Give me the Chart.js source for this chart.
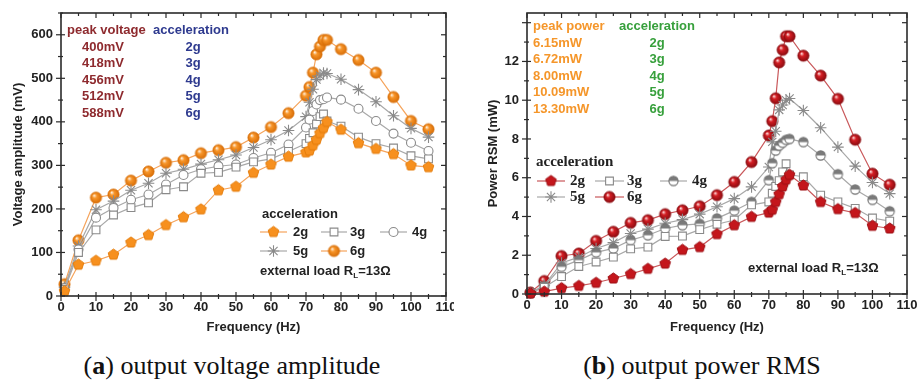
<!DOCTYPE html>
<html>
<head>
<meta charset="utf-8">
<script src="https://cdn.jsdelivr.net/npm/chart.js@4.4.1/dist/chart.umd.min.js"></script>
<style>
body { margin: 0; background: #fff; }
#wrap { position: relative; width: 919px; height: 388px; overflow: hidden; background: #fff; }
#c1 { position: absolute; left: 0; top: 0; }
#c2 { position: absolute; left: 460px; top: 0; }
.cap { position: absolute; top: 351px; transform: translateX(-50%); font-family: "Liberation Serif", serif; font-size: 26px; color: #111; white-space: nowrap; }
</style>
</head>
<body>
<div id="wrap">
  <canvas id="c1" width="454" height="340"></canvas>
  <canvas id="c2" width="459" height="340"></canvas>
  <div class="cap" style="left:232px">(<b>a</b>) output voltage amplitude</div>
  <div class="cap" style="left:702px">(<b>b</b>) output power RMS</div>
</div>
<script>
// frequencies (Hz) shared by every series
const freq = [1, 5, 10, 15, 20, 25, 30, 35, 40, 45, 50, 55, 60, 65, 70, 71, 72, 73, 74, 75, 76, 80, 85, 90, 95, 100, 105];
const accel = ['2g', '3g', '4g', '5g', '6g'];

// (a) voltage amplitude, mV
const volt2g = [11, 72, 81, 95, 123, 140, 163, 181, 199, 243, 251, 283, 302, 320, 330, 334, 346, 359, 374, 386, 400, 382, 351, 338, 326, 300, 296];
const volt3g = [15, 100, 152, 186, 203, 214, 244, 251, 282, 284, 296, 308, 315, 332, 350, 362, 375, 395, 412, 418, 402, 390, 365, 350, 340, 322, 315];
const volt4g = [18, 107, 180, 202, 221, 233, 256, 278, 291, 298, 302, 317, 329, 348, 387, 405, 425, 440, 450, 452, 456, 451, 430, 402, 373, 352, 333];
const volt5g = [20, 115, 198, 218, 243, 259, 282, 291, 303, 313, 324, 341, 359, 380, 412, 445, 475, 497, 506, 512, 511, 498, 474, 446, 414, 385, 365];
const volt6g = [27, 128, 226, 233, 265, 286, 306, 312, 328, 335, 342, 364, 388, 420, 460, 480, 513, 555, 573, 588, 588, 567, 542, 513, 457, 402, 383];
const peakVoltage = ['400mV', '418mV', '456mV', '512mV', '588mV'];

// (b) power RMS, mW
const pow2g = [0.03, 0.12, 0.3, 0.42, 0.58, 0.8, 1.03, 1.3, 1.57, 2.28, 2.42, 3.09, 3.55, 3.98, 4.2, 4.35, 4.75, 5.15, 5.55, 5.9, 6.15, 5.6, 4.75, 4.38, 4.18, 3.52, 3.38];
const pow3g = [0.05, 0.35, 0.9, 1.42, 1.65, 1.9, 2.33, 2.42, 2.97, 2.99, 3.32, 3.6, 3.82, 4.6, 4.75, 5.2, 5.55, 5.85, 6.3, 6.72, 6.15, 6.05, 5.1, 4.75, 4.42, 3.92, 3.76];
const pow4g = [0.05, 0.4, 1.4, 1.75, 2.15, 2.35, 2.78, 3.03, 3.38, 3.55, 3.62, 3.9, 4.3, 4.75, 5.87, 6.75, 7.4, 7.65, 7.8, 7.95, 8.0, 7.84, 7.15, 6.18, 5.39, 4.86, 4.27];
const pow5g = [0.06, 0.45, 1.6, 1.9, 2.35, 2.65, 3.12, 3.35, 3.65, 3.84, 4.12, 4.5, 4.92, 5.53, 6.55, 7.85, 8.4, 9.5, 9.75, 10.0, 10.09, 9.47, 8.58, 7.58, 6.6, 5.75, 5.18];
const pow6g = [0.08, 0.67, 1.96, 2.09, 2.74, 3.21, 3.67, 3.81, 4.12, 4.32, 4.53, 5.1, 5.78, 6.81, 8.18, 8.92, 10.1, 11.95, 12.6, 13.3, 13.3, 12.3, 11.27, 10.07, 7.96, 6.21, 5.64];
const peakPower = ['6.15mW', '6.72mW', '8.00mW', '10.09mW', '13.30mW'];

const SANS = '"Liberation Sans", Arial, sans-serif';
const SERIF = '"Liberation Serif", "Times New Roman", serif';

// marker images
function pentagonImg(fill, edge, r) {
  const s = Math.ceil(2 * r + 3), c = document.createElement('canvas');
  c.width = c.height = s;
  const g = c.getContext('2d');
  g.translate(s / 2, s / 2);
  g.beginPath();
  for (let k = 0; k < 5; k++) {
    const a = -Math.PI / 2 + k * 2 * Math.PI / 5;
    g.lineTo(r * Math.cos(a), r * Math.sin(a));
  }
  g.closePath();
  g.fillStyle = fill; g.fill();
  g.strokeStyle = edge; g.lineWidth = 1; g.stroke();
  return c;
}
function ballImg(light, mid, dark, r) {
  const s = Math.ceil(2 * r + 3), c = document.createElement('canvas');
  c.width = c.height = s;
  const g = c.getContext('2d');
  g.translate(s / 2, s / 2);
  const grd = g.createRadialGradient(-0.35 * r, -0.4 * r, 0.3, 0, 0, r);
  grd.addColorStop(0, light);
  grd.addColorStop(0.35, mid);
  grd.addColorStop(1, dark);
  g.beginPath(); g.arc(0, 0, r, 0, Math.PI * 2);
  g.fillStyle = grd; g.fill();
  g.strokeStyle = dark; g.lineWidth = 0.8; g.stroke();
  return c;
}
function halfImg(r) {
  const s = Math.ceil(2 * r + 3), c = document.createElement('canvas');
  c.width = c.height = s;
  const g = c.getContext('2d');
  g.translate(s / 2, s / 2);
  g.beginPath(); g.arc(0, 0, r, 0, Math.PI * 2); g.fillStyle = '#fff'; g.fill();
  g.beginPath(); g.arc(0, 0, r, Math.PI, Math.PI * 2); g.closePath(); g.fillStyle = '#7a7a7a'; g.fill();
  g.beginPath(); g.arc(0, 0, r, 0, Math.PI * 2); g.strokeStyle = '#707070'; g.lineWidth = 1.1; g.stroke();
  return c;
}

const ORANGE_LINE = '#f5a45c', ORANGE = '#f7901e';
const RED_LINE = '#c9585b', RED = '#c4161c';
const GRAY_LINE = '#a8a8a8', GRAY = '#8a8a8a';

function series(label, vals, lineColor, style, radius, fill, edge) {
  return {
    label: label,
    data: freq.map((f, i) => ({ x: f, y: vals[i] })),
    showLine: true,
    borderColor: lineColor,
    borderWidth: 1.2,
    pointStyle: style,
    pointRadius: radius,
    pointBackgroundColor: fill,
    pointBorderColor: edge,
    pointBorderWidth: 1.1,
    clip: 10
  };
}

// frame with Origin-style ticks on all four sides
function drawFrame(chart, minorX, minorY) {
  const { ctx, chartArea: a, scales: { x, y } } = chart;
  ctx.save();
  ctx.strokeStyle = '#2b2b2b';
  ctx.lineWidth = 1.2;
  const seg = (x1, y1, x2, y2) => { ctx.beginPath(); ctx.moveTo(x1, y1); ctx.lineTo(x2, y2); ctx.stroke(); };
  for (let i = 0; x.min + i * minorX <= x.max + 1e-9; i++) {
    const px = x.getPixelForValue(x.min + i * minorX);
    const L = i % 2 === 0 ? 5 : 3;
    seg(px, a.bottom - L + 1, px, a.bottom + L);
    seg(px, a.top, px, a.top + L);
  }
  for (let i = 0; y.min + i * minorY <= y.max + 1e-9; i++) {
    const py = y.getPixelForValue(y.min + i * minorY);
    const L = i % 2 === 0 ? 5 : 3;
    seg(a.left - L, py, a.left + L - 1, py);
    seg(a.right - L, py, a.right, py);
  }
  ctx.lineWidth = 1.6;
  ctx.strokeRect(a.left, a.top, a.right - a.left, a.bottom - a.top);
  ctx.restore();
}

function text(ctx, t, x, y, color, font, align) {
  ctx.fillStyle = color;
  ctx.font = font;
  ctx.textAlign = align || 'left';
  ctx.textBaseline = 'middle';
  ctx.fillText(t, x, y);
}

function drawLoad(ctx, x, y) {
  const f = 'bold 13px ' + SANS;
  text(ctx, 'external load R', x, y, '#222', f);
  ctx.font = f;
  const w = ctx.measureText('external load R').width;
  text(ctx, 'L', x + w, y + 5, '#222', 'bold 8px ' + SANS);
  text(ctx, '=13\u03A9', x + w + 5, y, '#222', f);
}

function legendEntry(chart, i, x1, x2, y, tx, font) {
  const ctx = chart.ctx, ds = chart.data.datasets[i];
  ctx.save();
  ctx.strokeStyle = ds.borderColor; ctx.lineWidth = 1.2;
  ctx.beginPath(); ctx.moveTo(x1, y); ctx.lineTo(x2, y); ctx.stroke();
  ctx.fillStyle = ds.pointBackgroundColor; ctx.strokeStyle = ds.pointBorderColor; ctx.lineWidth = 1.1;
  Chart.helpers.drawPoint(ctx, { pointStyle: ds.pointStyle, radius: ds.pointRadius, borderWidth: 1.1, rotation: 0 }, (x1 + x2) / 2, y);
  text(ctx, ds.label, tx, y, '#222', font);
  ctx.restore();
}

function axes(yMax, yStep, yTitle, axisW, axisH, titlePad) {
  const tickFont = { family: SANS, size: 13, weight: 'bold' };
  return {
    x: {
      type: 'linear', min: 0, max: 110,
      ticks: { stepSize: 10, font: tickFont, color: '#222', padding: 4, maxRotation: 0, autoSkip: false },
      grid: { display: false, drawTicks: false }, border: { display: false },
      title: { display: true, text: 'Frequency (Hz)', font: tickFont, color: '#222', padding: { top: 0, bottom: 5 } },
      afterFit: s => { s.height = axisH; s.paddingLeft = 0; s.paddingRight = 0; }
    },
    y: {
      type: 'linear', min: 0, max: yMax,
      ticks: { stepSize: yStep, font: tickFont, color: '#222', padding: 8 },
      afterBuildTicks: s => { s.ticks = s.ticks.filter(t => Math.abs(t.value / yStep - Math.round(t.value / yStep)) < 1e-6); },
      grid: { display: false, drawTicks: false }, border: { display: false },
      title: { display: true, text: yTitle, font: tickFont, color: '#222', padding: { top: titlePad, bottom: 0 } },
      afterFit: s => { s.width = axisW; s.paddingTop = 0; s.paddingBottom = 0; }
    }
  };
}

// (a) voltage
const orangePenta = pentagonImg(ORANGE, '#e57d0c', 5.6);
const orangeBall = ballImg('#fff1e0', '#f8962a', '#d86e08', 5.6);
new Chart(document.getElementById('c1'), {
  type: 'scatter',
  data: {
    datasets: [
      series(accel[0], volt2g, ORANGE_LINE, orangePenta, 5, ORANGE, ORANGE),
      series(accel[1], volt3g, GRAY_LINE, 'rect', 5.5, '#fff', GRAY),
      series(accel[2], volt4g, GRAY_LINE, 'circle', 4.5, '#fff', GRAY),
      series(accel[3], volt5g, GRAY_LINE, 'star', 5.8, '#fff', GRAY),
      series(accel[4], volt6g, ORANGE_LINE, orangeBall, 5, ORANGE, ORANGE)
    ]
  },
  options: {
    responsive: false, animation: false,
    layout: { padding: { left: 0, right: 8, top: 13, bottom: 0 } },
    scales: axes(650, 100, 'Voltage amplitude (mV)', 61, 44, 11),
    plugins: { legend: { display: false }, tooltip: { enabled: false } }
  },
  plugins: [{
    id: 'decorA',
    afterDraw(chart) {
      const ctx = chart.ctx;
      drawFrame(chart, 5, 50);
      const f = 'bold 13px ' + SANS;
      text(ctx, 'peak voltage', 67, 30, '#8e2a2e', f);
      text(ctx, 'acceleration', 153, 30, '#2e3a8f', f);
      peakVoltage.forEach((v, i) => {
        text(ctx, v, 82, 47 + i * 16.6, '#8e2a2e', f);
        text(ctx, accel[i], 193, 47 + i * 16.6, '#2e3a8f', f, 'center');
      });
      text(ctx, 'acceleration', 262, 214, '#222', f);
      legendEntry(chart, 0, 260, 287, 232, 293, f);
      legendEntry(chart, 1, 321, 347, 232, 350, f);
      legendEntry(chart, 2, 380, 407, 232, 412, f);
      legendEntry(chart, 3, 260, 287, 251, 293, f);
      legendEntry(chart, 4, 321, 347, 251, 350, f);
      drawLoad(ctx, 260, 271);
    }
  }]
});

// (b) power
const redPenta = pentagonImg(RED, '#9e0f14', 5.6);
const redBall = ballImg('#ffe0e0', '#d41e24', '#8c0b10', 5.6);
const grayHalf = halfImg(4.6);
new Chart(document.getElementById('c2'), {
  type: 'scatter',
  data: {
    datasets: [
      series(accel[0], pow2g, RED_LINE, redPenta, 5, RED, RED),
      series(accel[1], pow3g, GRAY_LINE, 'rect', 5.5, '#fff', GRAY),
      series(accel[2], pow4g, GRAY_LINE, grayHalf, 4.5, '#fff', GRAY),
      series(accel[3], pow5g, GRAY_LINE, 'star', 5.8, '#fff', GRAY),
      series(accel[4], pow6g, RED_LINE, redBall, 5, RED, RED)
    ]
  },
  options: {
    responsive: false, animation: false,
    layout: { padding: { left: 0, right: 12, top: 13, bottom: 0 } },
    scales: axes(14.5, 2, 'Power RSM (mW)', 67, 46, 26),
    plugins: { legend: { display: false }, tooltip: { enabled: false } }
  },
  plugins: [{
    id: 'decorB',
    afterDraw(chart) {
      const ctx = chart.ctx;
      drawFrame(chart, 5, 1);
      const f = 'bold 13px ' + SANS;
      text(ctx, 'peak power', 73, 26, '#f5962a', f);
      text(ctx, 'acceleration', 159, 26, '#37a03c', f);
      peakPower.forEach((v, i) => {
        text(ctx, v, 73, 43 + i * 16.5, '#f5962a', f);
        text(ctx, accel[i], 197, 43 + i * 16.5, '#37a03c', f, 'center');
      });
      const sf = 'bold 15px ' + SERIF;
      text(ctx, 'acceleration', 76, 162, '#222', sf);
      legendEntry(chart, 0, 77, 105, 181, 110, sf);
      legendEntry(chart, 1, 135, 164, 181, 167, sf);
      legendEntry(chart, 2, 200, 227, 181, 232, sf);
      legendEntry(chart, 3, 77, 105, 197, 110, sf);
      legendEntry(chart, 4, 135, 164, 197, 167, sf);
      drawLoad(ctx, 288, 268);
    }
  }]
});
</script>
</body>
</html>
